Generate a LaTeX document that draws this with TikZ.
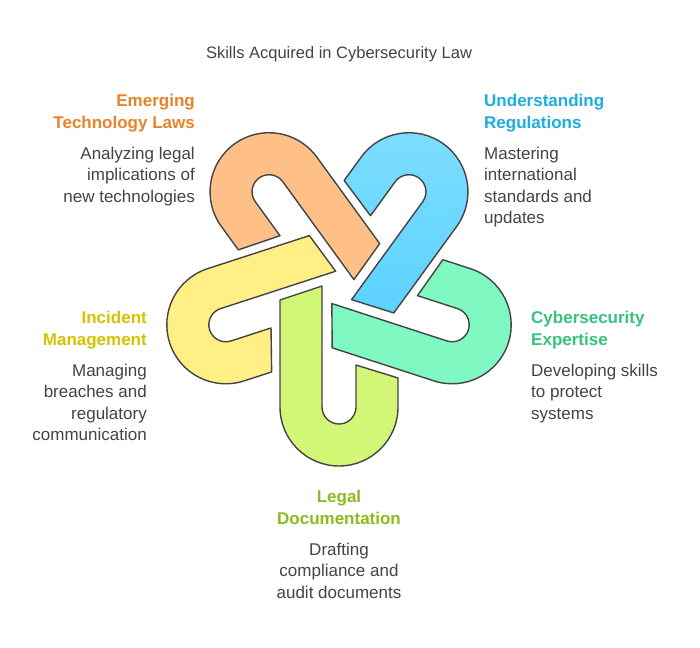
\documentclass[tikz,border=0pt]{standalone}
\usepackage{fontspec}
\setmainfont{Liberation Sans}
\definecolor{cLime}{HTML}{D2F777}
\definecolor{cTeal}{HTML}{80F8C2}
\definecolor{cBlue}{HTML}{7EDEFF}
\definecolor{cBlueD}{HTML}{5CD2FF}
\definecolor{cOrange}{HTML}{FFC088}
\definecolor{cYellow}{HTML}{FFEF85}
\definecolor{tOrange}{HTML}{E8832A}
\definecolor{tBlue}{HTML}{1CAEE0}
\definecolor{tGreen}{HTML}{35C47F}
\definecolor{tYellow}{HTML}{D6C300}
\definecolor{tLime}{HTML}{8DBB1E}
\definecolor{tGray}{HTML}{444444}
\tikzset{
  hook/.style={draw=tGray, line width=1.4pt, line join=round},
  head/.style={font=\fontsize{17}{21.5}\selectfont\bfseries, inner sep=0pt},
  body/.style={font=\fontsize{17}{21.3}\selectfont, text=tGray, inner sep=0pt},
}
\newcommand{\hookpath}{(-59,-12) -- (-59,-119) arc[start angle=180,end angle=360,radius=59] -- (59,-90) -- (17,-77) -- (17,-119) arc[start angle=0,end angle=-180,radius=17] -- (-17,2) -- cycle}
\begin{document}
\begin{tikzpicture}[x=1pt,y=1pt]
\useasboundingbox (0,0) rectangle (700,-647);
\fill[white] (0,0) rectangle (700,-647);
\node[font=\fontsize{16.5}{19}\selectfont, text=tGray] (title) at (339,-54) {Skills Acquired in Cybersecurity Law};
\begin{scope}[shift={(339,-288)}]
  \begin{scope}[rotate=0]\path[hook, fill=cLime] \hookpath;\end{scope}
  \begin{scope}[rotate=72]\path[hook, fill=cTeal] \hookpath;\end{scope}
  \begin{scope}[rotate=144]\path[hook, top color=cBlue, bottom color=cBlueD] \hookpath;\end{scope}
  \begin{scope}[rotate=216]\path[hook, fill=cOrange] \hookpath;\end{scope}
  \begin{scope}[rotate=288]\path[hook, fill=cYellow] \hookpath;\end{scope}
\end{scope}
% texts
\node[head, text=tOrange, align=right, anchor=north east] (h1) at (195,-94) {Emerging\\Technology Laws};
\node[body, align=right, anchor=north east] (b1) at (195,-147) {Analyzing legal\\implications of\\new technologies};
\node[head, text=tBlue, align=left, anchor=north west] (h2) at (484,-94) {Understanding\\Regulations};
\node[body, align=left, anchor=north west] (b2) at (484,-147) {Mastering\\international\\standards and\\updates};
\node[head, text=tGreen, align=left, anchor=north west] (h3) at (531,-311) {Cybersecurity\\Expertise};
\node[body, align=left, anchor=north west] (b3) at (531,-364) {Developing skills\\to protect\\systems};
\node[head, text=tYellow, align=right, anchor=north east] (h4) at (147,-311) {Incident\\Management};
\node[body, align=right, anchor=north east] (b4) at (147,-364) {Managing\\breaches and\\regulatory\\communication};
\node[head, text=tLime, align=center, anchor=north] (h5) at (339,-490) {Legal\\Documentation};
\node[body, align=center, anchor=north] (b5) at (339,-543) {Drafting\\compliance and\\audit documents};
\end{tikzpicture}
\end{document}
